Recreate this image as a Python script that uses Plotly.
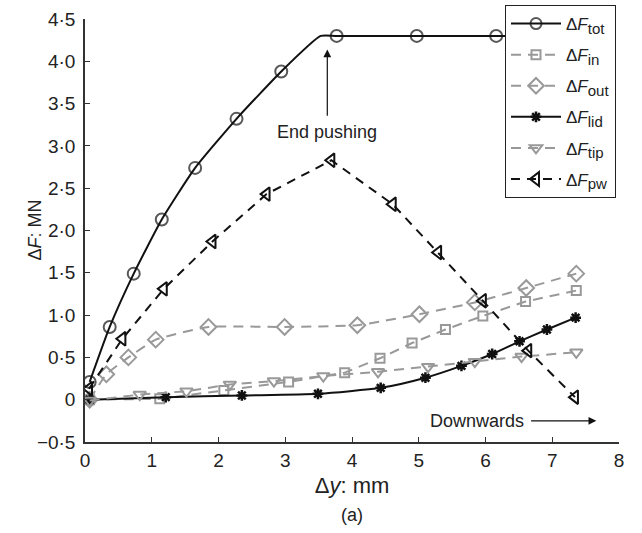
import plotly.graph_objects as go

# ---- data ----
tot_x = [0.07, 0.37, 0.73, 1.15, 1.65, 2.27, 2.94, 3.53, 3.77, 4.97, 6.16, 7.35]
tot_y = [0.21, 0.86, 1.49, 2.13, 2.74, 3.32, 3.88, 4.30, 4.30, 4.30, 4.30, 4.30]
tot_marker = [12, 12, 12, 12, 12, 12, 12, 0, 12, 12, 12, 12]

in_x = [0.07, 1.12, 2.08, 3.05, 3.89, 4.42, 4.90, 5.40, 5.96, 6.60, 7.36]
in_y = [0.00, 0.01, 0.11, 0.21, 0.32, 0.49, 0.67, 0.83, 0.99, 1.16, 1.29]

out_x = [0.07, 0.32, 0.65, 1.06, 1.85, 2.99, 4.08, 5.01, 5.84, 6.61, 7.36]
out_y = [0.00, 0.30, 0.50, 0.71, 0.86, 0.86, 0.88, 1.01, 1.15, 1.32, 1.49]

lid_x = [0.07, 1.21, 2.35, 3.49, 4.43, 5.10, 5.64, 6.10, 6.51, 6.92, 7.35]
lid_y = [0.00, 0.03, 0.05, 0.07, 0.14, 0.26, 0.40, 0.54, 0.69, 0.83, 0.97]

tip_x = [0.07, 0.82, 1.52, 2.17, 2.83, 3.57, 4.39, 5.14, 5.84, 6.54, 7.36]
tip_y = [-0.01, 0.06, 0.10, 0.18, 0.22, 0.28, 0.33, 0.39, 0.45, 0.51, 0.56]

pw_x = [0.06, 0.56, 1.18, 1.91, 2.72, 3.69, 4.61, 5.29, 5.96, 6.64, 7.34]
pw_y = [0.13, 0.72, 1.31, 1.87, 2.43, 2.83, 2.31, 1.74, 1.17, 0.58, 0.03]

x_ticks = [0, 1, 2, 3, 4, 5, 6, 7, 8]
y_ticks = [-0.5, 0, 0.5, 1.0, 1.5, 2.0, 2.5, 3.0, 3.5, 4.0, 4.5]
y_ticklabels = ["−0·5", "0", "0·5", "1·0", "1·5", "2·0", "2·5", "3·0", "3·5", "4·0", "4·5"]

BLACK = "#111111"
GREY = "#999999"
FONT = "Liberation Sans, Arial, sans-serif"

fig = go.Figure()


def lname(sub):
    return "Δ<i>F</i><sub><span style='font-size:15px'>" + sub + "</span></sub>"


def add(name, x, y, color, dash, symbol, size=11, shape="linear", smoothing=None, mlw=2):
    line = dict(color=color, width=2, dash=dash, shape=shape)
    if smoothing is not None:
        line["smoothing"] = smoothing
    fig.add_trace(go.Scatter(
        x=x, y=y, name=name, legendgroup=name, mode="lines+markers",
        line=line,
        marker=dict(symbol=symbol, size=size, color=color,
                    line=dict(color=color, width=mlw)),
    ))


add(lname("tot"), tot_x, tot_y, BLACK, "solid", "circle-open",
    size=tot_marker, shape="spline", smoothing=0.5)
add(lname("in"), in_x, in_y, GREY, "10px,7px", "square-open", size=9)
add(lname("out"), out_x, out_y, GREY, "10px,7px", "diamond-open", size=12,
    shape="spline", smoothing=0.4)
add(lname("lid"), lid_x, lid_y, BLACK, "solid", "asterisk-open", size=9,
    shape="spline", smoothing=0.6, mlw=2.5)
add(lname("tip"), tip_x, tip_y, GREY, "10px,7px", "triangle-down-open", size=11)
add(lname("pw"), pw_x, pw_y, BLACK, "9px,7px", "triangle-left-open", size=12)

# annotations
fig.add_annotation(x=3.63, y=4.14, ax=3.63, ay=3.34, xref="x", yref="y",
                   axref="x", ayref="y", showarrow=True, arrowhead=2,
                   arrowsize=1.3, arrowwidth=1.2, arrowcolor=BLACK, text="")
fig.add_annotation(x=3.63, y=3.16, xref="x", yref="y", text="End pushing",
                   showarrow=False, font=dict(size=18, color="#222", family=FONT))
fig.add_annotation(x=7.66, y=-0.25, ax=6.66, ay=-0.25, xref="x", yref="y",
                   axref="x", ayref="y", showarrow=True, arrowhead=2,
                   arrowsize=1.3, arrowwidth=1.2, arrowcolor=BLACK, text="")
fig.add_annotation(x=5.87, y=-0.25, xref="x", yref="y", text="Downwards",
                   showarrow=False, font=dict(size=18, color="#222", family=FONT))
fig.add_annotation(x=4, y=-0.5, xref="x", yref="y", yshift=-73, text="(a)",
                   showarrow=False, font=dict(size=18, color="#222", family=FONT))
# y-axis title placed close to the axis, as in the reference
fig.add_annotation(x=0, y=0.5, xref="paper", yref="paper", xshift=-51,
                   xanchor="center", yanchor="middle",
                   text="Δ<i>F</i>: MN", textangle=-90, showarrow=False,
                   font=dict(size=18, color="#222", family=FONT))

fig.update_layout(
    width=642, height=533,
    margin=dict(l=85, r=23, t=19, b=91, autoexpand=False),
    paper_bgcolor="white", plot_bgcolor="white",
    font=dict(family=FONT, size=18, color="#222"),
    showlegend=True,
    legend=dict(xref="container", yref="container", x=505 / 642, y=1 - 5 / 533,
                xanchor="left", yanchor="top",
                bgcolor="white", bordercolor="#222", borderwidth=1,
                font=dict(size=17, family=FONT), itemwidth=50,
                tracegroupgap=6),
    xaxis=dict(range=[0, 8], tickvals=x_ticks, ticks="inside", ticklen=5,
               showline=True, linecolor="#333", linewidth=1.5, tickcolor="#333",
               showgrid=False, zeroline=False, ticklabelstandoff=0,
               tickfont=dict(size=19),
               title=dict(text="Δ<i>y</i>: mm", standoff=8)),
    yaxis=dict(range=[-0.5, 4.5], tickvals=y_ticks, ticktext=y_ticklabels,
               ticks="inside", ticklen=5,
               showline=True, linecolor="#333", linewidth=1.5, tickcolor="#333",
               showgrid=False, zeroline=False, ticklabelstandoff=4,
               tickfont=dict(size=19)),
)

fig.write_html("out.html", post_script="document.body.style.margin='0';",
               config={"displayModeBar": False})
